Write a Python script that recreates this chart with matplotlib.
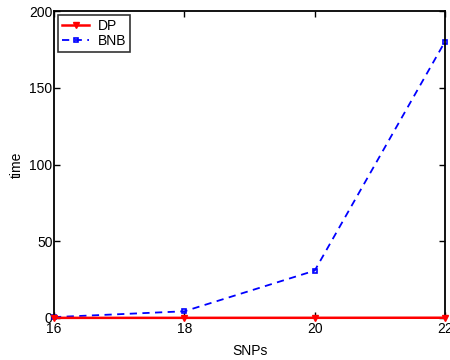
import matplotlib
matplotlib.use('Agg')
import matplotlib.pyplot as plt

snps = [16, 18, 20, 22]
dp_time = [0.01, 0.02, 0.05, 0.1]
bnb_time = [0.5, 4.3, 30.8, 180.2]

plt.rcParams['font.family'] = ['Liberation Sans', 'DejaVu Sans']
plt.rcParams['font.size'] = 10

fig = plt.figure(figsize=(4.5, 3.6), dpi=100)
ax = fig.add_axes([0.12, 0.117, 0.869, 0.852])

ax.plot(snps, dp_time, 'r-v', lw=1.8, ms=5, label='DP', clip_on=False, zorder=3)
ax.plot(snps, bnb_time, 'b--s', lw=1.3, ms=3.5, mfc='none', mew=1.2,
        label='BNB', clip_on=False, dashes=(4, 3))

ax.set_xlim(16, 22)
ax.set_ylim(0, 200)
ax.set_xticks(snps)
ax.set_yticks([0, 50, 100, 150, 200])
ax.tick_params(direction='in', top=True, right=True, length=4, width=1, pad=1)
ax.tick_params(axis='x', pad=3)
for s in ax.spines.values():
    s.set_linewidth(1.3)
ax.set_xlabel('SNPs', labelpad=6)
ax.set_ylabel('time', labelpad=4)

leg = ax.legend(loc='upper left', fancybox=False, edgecolor='black',
                borderaxespad=0.3, handlelength=2.0, borderpad=0.25,
                labelspacing=0.1, handletextpad=0.6)
leg.get_frame().set_linewidth(1.2)

fig.savefig('out.png', dpi=100)
